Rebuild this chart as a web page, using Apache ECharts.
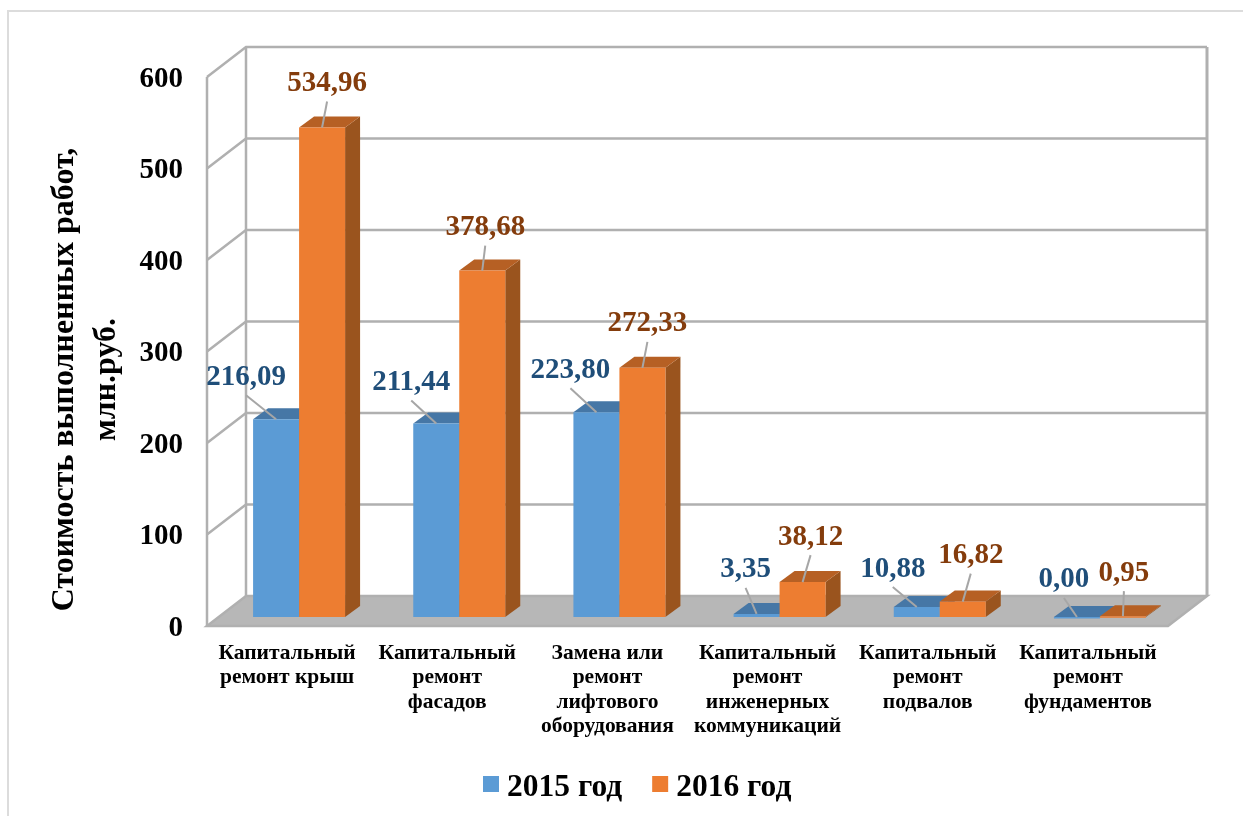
<!DOCTYPE html>
<html><head><meta charset="utf-8">
<style>html,body{margin:0;padding:0;background:#fff}#c{width:1243px;height:816px}</style>
<script src="https://cdn.jsdelivr.net/npm/echarts@6/dist/echarts.min.js"></script>
</head><body><div id="c"></div>
<script>
const categories = ['Капитальный\nремонт крыш','Капитальный\nремонт\nфасадов','Замена или\nремонт\nлифтового\nоборудования','Капитальный\nремонт\nинженерных\nкоммуникаций','Капитальный\nремонт\nподвалов','Капитальный\nремонт\nфундаментов'];
const values2015 = [216.09,211.44,223.80,3.35,10.88,0.00];
const values2016 = [534.96,378.68,272.33,38.12,16.82,0.95];
const yTicks = [0,100,200,300,400,500,600];
const labelOffsets2015 = [[-30,-45],[-25,-44],[-26,-45],[-11,-47],[-24,-41],[-13,-40]];
const labelOffsets2016 = [[5,-47],[3,-46],[5,-47],[8,-48],[8,-49],[1,-46]];

const SERIF = '"Liberation Serif","Times New Roman",serif';
const WALL = [39,-30], BASE = [12,-9], DEPTH = [15,-11], BARW = 46;
const GRID = '#B0B0B0';

function wallItem(params, api){
  const cs = params.coordSys, v = api.value(0);
  const p = api.coord([0, v]);
  const left = cs.x, right = cs.x + cs.width, y = p[1];
  const children = [];
  if (params.dataIndex === 0) {
    const b = cs.y + cs.height;
    children.push({type:'polygon',z2:1,shape:{points:[[left,b],[right,b],[right+WALL[0],b+WALL[1]],[left+WALL[0],b+WALL[1]]]},style:{fill:'#B7B7B7',stroke:GRID,lineWidth:2.5}});
    children.push({type:'line',z2:2,shape:{x1:left+WALL[0],y1:cs.y+WALL[1],x2:left+WALL[0],y2:b+WALL[1]},style:{stroke:GRID,lineWidth:2.5}});
    children.push({type:'line',z2:2,shape:{x1:left,y1:cs.y,x2:left,y2:b},style:{stroke:GRID,lineWidth:2.5}});
    children.push({type:'line',z2:2,shape:{x1:right+WALL[0],y1:cs.y+WALL[1],x2:right+WALL[0],y2:b+WALL[1]},style:{stroke:GRID,lineWidth:3}});
  }
  children.push({type:'polyline',z2:2,shape:{points:[[left,y],[left+WALL[0],y+WALL[1]],[right+WALL[0],y+WALL[1]]]},style:{fill:null,stroke:GRID,lineWidth:v===0?0:2.5}});
  return {type:'group',children};
}
function barRenderer(side, fronts, tops, sides, labelColor, offsets){
  return function(params, api){
    const i = api.value(0), v = api.value(1);
    const c = api.coord([i, v]), c0 = api.coord([i, 0]);
    const xL = side < 0 ? c[0]+BASE[0]-BARW : c[0]+BASE[0];
    const xR = xL + BARW;
    const yT = c[1]+BASE[1], yB = c0[1]+BASE[1];
    const dx = DEPTH[0], dy = DEPTH[1];
    const ax = (xL+xR)/2, ay = yT, o = offsets[i];
    return {type:'group',children:[
      {type:'polygon',z2:11,shape:{points:[[xR,yT],[xR+dx,yT+dy],[xR+dx,yB+dy],[xR,yB]]},style:{fill:sides}},
      {type:'polygon',z2:11,shape:{points:[[xL,yT],[xR,yT],[xR+dx,yT+dy],[xL+dx,yT+dy]]},style:{fill:tops}},
      {type:'rect',z2:12,shape:{x:xL,y:yT,width:BARW,height:Math.max(yB-yT,1.5)},style:{fill:fronts}},
      {type:'line',z2:30,shape:{x1:ax,y1:ay,x2:ax+o[0],y2:ay+o[1]+21},style:{stroke:'#A6A6A6',lineWidth:2}},
      {type:'text',z2:31,x:ax+o[0],y:ay+o[1]+3,style:{text:v.toFixed(2).replace('.',','),x:0,y:0,fill:labelColor,font:'bold 29px '+SERIF,align:'center',verticalAlign:'middle'}}
    ]};
  };
}
const chart = echarts.init(document.getElementById('c'),null,{renderer:'canvas'});
chart.setOption({
  animation:false,
  backgroundColor:'#fff',
  graphic:[
    {type:'line',z:-1,shape:{x1:8,y1:11,x2:1243,y2:11},style:{stroke:'#DCDCDC',lineWidth:2}},
    {type:'line',z:-1,shape:{x1:8,y1:10,x2:8,y2:816},style:{stroke:'#DCDCDC',lineWidth:2}}
  ],
  grid:{left:207,top:77,width:961,height:549,containLabel:false,outerBoundsMode:'none'},
  legend:{top:767,left:478,itemWidth:16,itemHeight:16,itemGap:30,icon:'rect',
    data:['2015 год','2016 год'],formatter:'{a|{name}}',
    textStyle:{color:'#000',rich:{a:{fontFamily:SERIF,fontWeight:'bold',fontSize:31.5,color:'#000',padding:[8,0,0,3]}}}},
  xAxis:{type:'category',data:categories,axisLine:{show:false},axisTick:{show:false},splitLine:{show:false},
    axisLabel:{interval:0,margin:15,fontFamily:SERIF,fontWeight:'bold',fontSize:21.5,lineHeight:24.4,color:'#000',align:'center',verticalAlign:'top'}},
  yAxis:{type:'value',min:0,max:600,interval:100,axisLine:{show:false},axisTick:{show:false},splitLine:{show:false},
    axisLabel:{margin:24,color:'#000',formatter:'{a|{value}}',
      rich:{a:{fontFamily:SERIF,fontWeight:'bold',fontSize:29,color:'#000',padding:[5,0,0,0]}}},
    name:'Стоимость выполненных работ,\nмлн.руб.',nameLocation:'middle',nameGap:79,nameRotate:90,
    nameTextStyle:{fontFamily:SERIF,fontWeight:'bold',fontSize:32,lineHeight:42,color:'#000',padding:[0,0,0,-56]}},
  series:[
    {name:'wall',type:'custom',coordinateSystem:'cartesian2d',silent:true,z:1,data:yTicks.map(v=>[v]),encode:{y:0},renderItem:wallItem},
    {name:'2015 год',type:'custom',coordinateSystem:'cartesian2d',z:2,itemStyle:{color:'#5B9BD5'},data:values2015.map((v,i)=>[i,v]),encode:{x:0,y:1},
      renderItem:barRenderer(-1,'#5B9BD5','#4677A6','#3C6A96','#1F4E79',labelOffsets2015)},
    {name:'2016 год',type:'custom',coordinateSystem:'cartesian2d',z:3,itemStyle:{color:'#ED7D31'},data:values2016.map((v,i)=>[i,v]),encode:{x:0,y:1},
      renderItem:barRenderer(1,'#ED7D31','#B66024','#9A541E','#843C0C',labelOffsets2016)}
  ]
});
</script></body></html>
